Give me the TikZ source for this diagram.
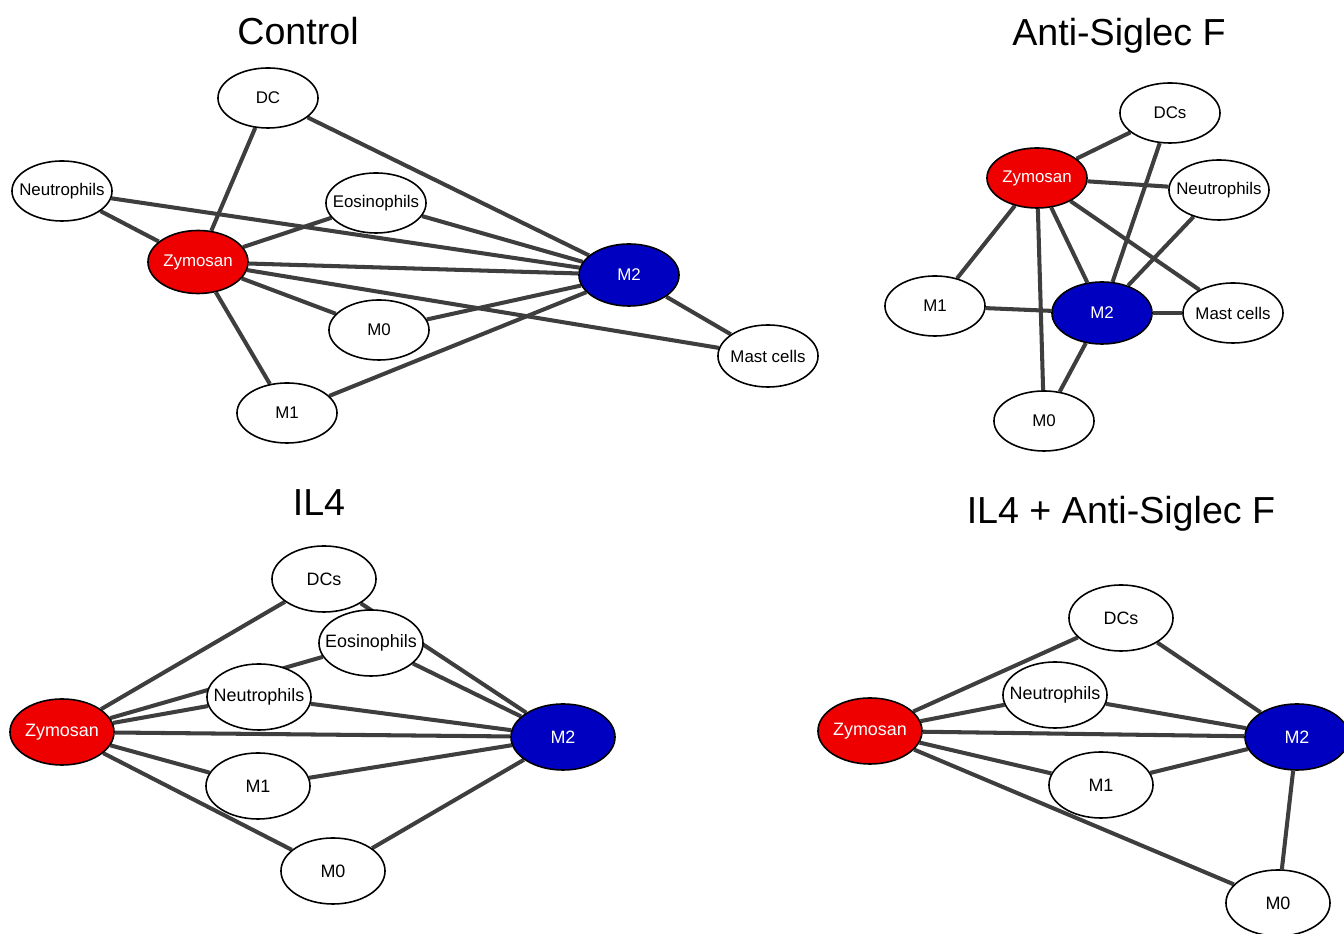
\documentclass[tikz,border=0pt]{standalone}
\usepackage{fontspec}
\setmainfont{Liberation Sans}
\usetikzlibrary{shapes.geometric,backgrounds}
\definecolor{zymred}{RGB}{238,0,0}
\definecolor{mtwoblue}{RGB}{0,0,192}
\definecolor{linkgray}{RGB}{62,62,62}

\begin{document}
\begin{tikzpicture}[line cap=round,line join=round,x=0.01cm,y=-0.01cm,
  cell/.style={ellipse,draw=black,line width=0.45pt,fill=white,inner xsep=-1.2mm,inner ysep=0pt,
    minimum width=1.0cm,minimum height=0.6cm,font=\fontsize{4.8}{5}\selectfont},
  bigcell/.style={cell,minimum width=1.04cm,minimum height=0.66cm,font=\fontsize{5.1}{6}\selectfont},
  zym/.style={fill=zymred,text=white},
  mtwo/.style={fill=mtwoblue,text=white},
  link/.style={draw=linkgray,line width=1.15pt},
  paneltitle/.style={font=\fontsize{10.7}{12}\selectfont}]
\useasboundingbox (0,0) rectangle (1344,934);

% Control
\node[paneltitle] (ttlA) at (298,31) {Control};
\node[cell] (aDC) at (268,98) {DC};
\node[cell] (aNeu) at (62,191) {Neutrophils};
\node[cell] (aEos) at (376,203) {Eosinophils};
\node[cell,zym,minimum height=0.63cm] (aZym) at (198,262) {Zymosan};
\node[cell,mtwo,minimum height=0.62cm] (aM2) at (629,275) {M2};
\node[cell] (aM0) at (379,330) {M0};
\node[cell] (aM1) at (287,413) {M1};
\node[cell,minimum height=0.62cm] (aMast) at (768,356) {Mast cells};
\begin{pgfonlayer}{background}
\draw[link] (aDC) -- (aZym);
\draw[link] (aDC) -- (aM2);
\draw[link] (aNeu) -- (aZym);
\draw[link] (aNeu) -- (aM2);
\draw[link] (aEos) -- (aZym);
\draw[link] (aEos) -- (aM2);
\draw[link] (aZym) -- (aM2);
\draw[link] (aZym) -- (aM0);
\draw[link] (aZym) -- (aMast);
\draw[link] (aZym) -- (aM1);
\draw[link] (aM0) -- (aM2);
\draw[link] (aM1) -- (aM2);
\draw[link] (aM2) -- (aMast);
\end{pgfonlayer}

% Anti-Siglec F
\node[paneltitle] (ttlB) at (1119,36) {Anti-Siglec F};
\node[cell] (bDC) at (1170,113) {DCs};
\node[cell,zym] (bZym) at (1037,178) {Zymosan};
\node[cell] (bNeu) at (1219,190) {Neutrophils};
\node[cell] (bM1) at (935,306) {M1};
\node[cell,mtwo,minimum height=0.62cm] (bM2) at (1102,313) {M2};
\node[cell] (bMast) at (1233,313) {Mast cells};
\node[cell] (bM0) at (1044,421) {M0};
\begin{pgfonlayer}{background}
\draw[link] (bZym) -- (bDC);
\draw[link] (bZym) -- (bNeu);
\draw[link] (bZym) -- (bM1);
\draw[link] (bZym) -- (bM0);
\draw[link] (bZym) -- (bM2);
\draw[link] (bZym) -- (bMast);
\draw[link] (bDC) -- (bM2);
\draw[link] (bNeu) -- (bM2);
\draw[link] (bM1) -- (bM2);
\draw[link] (bM2) -- (bMast);
\draw[link] (bM2) -- (bM0);
\end{pgfonlayer}

% IL4
\node[paneltitle] (ttlC) at (319,503) {IL4};
\node[bigcell] (cDC) at (324,579) {DCs};
\node[bigcell] (cEos) at (371,643) {Eosinophils};
\node[bigcell] (cNeu) at (259,697) {Neutrophils};
\node[bigcell,zym] (cZym) at (62,732) {Zymosan};
\node[bigcell,mtwo] (cM2) at (563,737) {M2};
\node[bigcell] (cM1) at (258,786) {M1};
\node[bigcell] (cM0) at (333,871) {M0};
\begin{pgfonlayer}{background}
\draw[link] (cZym) -- (cDC);
\draw[link] (cDC) -- (cM2);
\draw[link] (cZym) -- (cEos);
\draw[link] (cEos) -- (cM2);
\draw[link] (cZym) -- (cNeu);
\draw[link] (cNeu) -- (cM2);
\draw[link] (cZym) -- (cM2);
\draw[link] (cZym) -- (cM1);
\draw[link] (cM1) -- (cM2);
\draw[link] (cZym) -- (cM0);
\draw[link] (cM0) -- (cM2);
\end{pgfonlayer}

% IL4 + Anti-Siglec F
\node[paneltitle] (ttlD) at (1121,514) {IL4 + Anti-Siglec F};
\node[bigcell] (dDC) at (1121,618) {DCs};
\node[bigcell] (dNeu) at (1055,695) {Neutrophils};
\node[bigcell,zym] (dZym) at (870,731) {Zymosan};
\node[bigcell,mtwo] (dM2) at (1297,737) {M2};
\node[bigcell] (dM1) at (1101,785) {M1};
\node[bigcell] (dM0) at (1278,903) {M0};
\begin{pgfonlayer}{background}
\draw[link] (dZym) -- (dDC);
\draw[link] (dDC) -- (dM2);
\draw[link] (dZym) -- (dNeu);
\draw[link] (dNeu) -- (dM2);
\draw[link] (dZym) -- (dM2);
\draw[link] (dZym) -- (dM1);
\draw[link] (dM1) -- (dM2);
\draw[link] (dZym) -- (dM0);
\draw[link] (dM2) -- (dM0);
\end{pgfonlayer}
\end{tikzpicture}
\end{document}
